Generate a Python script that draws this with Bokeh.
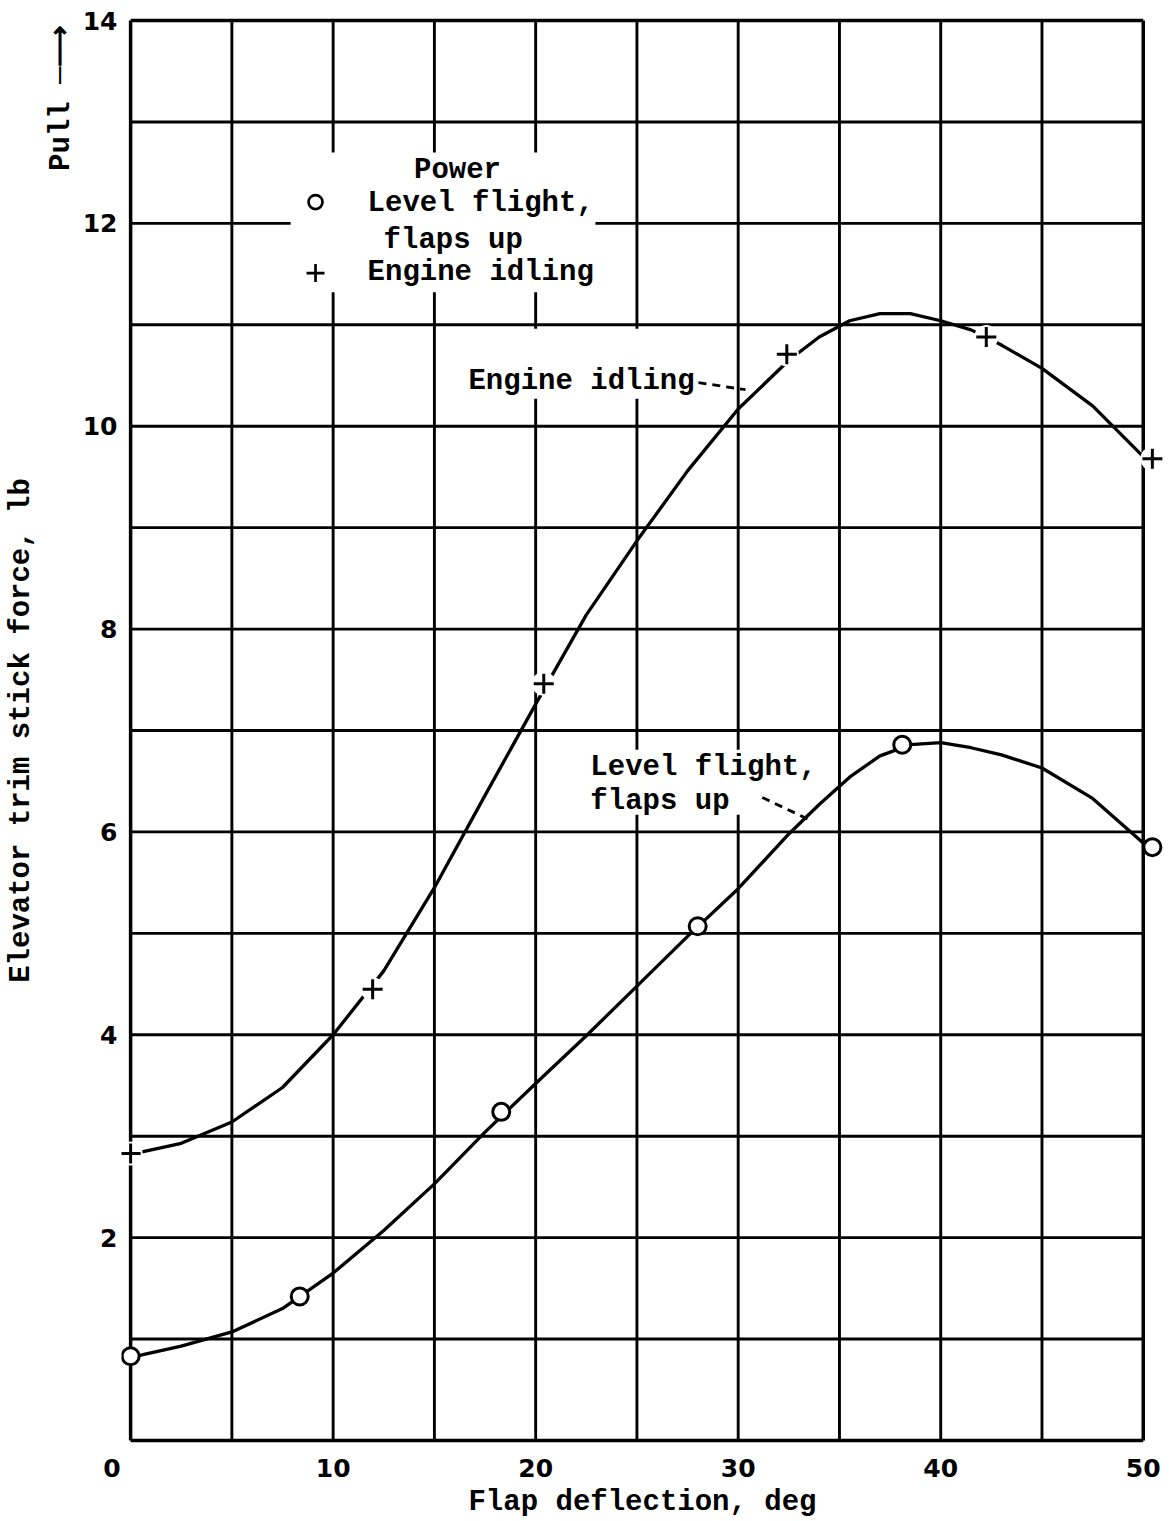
from bokeh.plotting import figure
from bokeh.models import Range1d, FixedTicker, Label, LinearAxis, Title
from bokeh.embed import file_html
from bokeh.resources import INLINE

# ---- data ----
# measured points
level_x = [0.0, 8.35, 18.3, 28.0, 38.1, 50.45]
level_y = [0.83, 1.42, 3.24, 5.07, 6.86, 5.85]
idle_x = [0.0, 11.95, 20.4, 32.4, 42.25, 50.45]
idle_y = [2.83, 4.45, 7.46, 10.71, 10.88, 9.68]

# faired curves
idle_fair_x = [0, 2.5, 5, 7.5, 10, 12.5, 15, 17.5, 20, 22.5, 25, 27.5, 30, 32.5, 34, 35.5, 37, 38.5, 40, 41.5, 43,
               45, 47.5, 50]
idle_fair_y = [2.82, 2.93, 3.14, 3.48, 4.00, 4.63, 5.45, 6.36, 7.26, 8.14, 8.87, 9.56, 10.17, 10.65, 10.88, 11.04,
               11.11, 11.11, 11.04, 10.95, 10.80, 10.57, 10.20, 9.70]
level_fair_x = [0, 2.5, 5, 7.5, 10, 12.5, 15, 17.5, 20, 22.5, 25, 27.5, 30, 32.5, 34, 35.5, 37, 38.5, 40, 41.5, 43,
                45, 47.5, 50]
level_fair_y = [0.82, 0.93, 1.07, 1.30, 1.65, 2.07, 2.53, 3.04, 3.52, 3.99, 4.48, 4.97, 5.44, 5.98, 6.27, 6.54,
                6.75, 6.86, 6.88, 6.83, 6.76, 6.63, 6.33, 5.89]

# grid / ticks
grid_x = [0, 5, 10, 15, 20, 25, 30, 35, 40, 45, 50]
grid_y = [0, 1, 2, 3, 4, 5, 6, 7, 8, 9, 10, 11, 12, 13, 14]
x_ticks = [0, 10, 20, 30, 40, 50]
y_ticks = [2, 4, 6, 8, 10, 12, 14]

MONO = "Liberation Mono"
INK = "#000000"

p = figure(width=1172, height=1521,
           x_range=Range1d(-0.45, 51.0), y_range=Range1d(-0.03, 14.03),
           output_backend="svg", toolbar_location=None,
           min_border_left=121, min_border_right=9, min_border_top=17, min_border_bottom=76)
p.outline_line_color = None
p.grid.visible = False
p.background_fill_color = "white"
p.border_fill_color = "white"

# axes (tick labels)
for ax in (p.xaxis, p.yaxis):
    ax.axis_line_color = None
    ax.major_tick_line_color = None
    ax.minor_tick_line_color = None
    ax.major_tick_out = 0
    ax.major_label_text_font = "DejaVu Sans"
    ax.major_label_text_font_style = "bold"
    ax.major_label_text_font_size = "25px"
    ax.major_label_text_color = INK
p.xaxis.ticker = FixedTicker(ticks=x_ticks)
p.yaxis.ticker = FixedTicker(ticks=y_ticks)
p.xaxis.major_label_standoff = 10
p.yaxis.major_label_standoff = 4
p.xaxis.major_label_overrides = {0: "0\u2003\u2002"}
p.xaxis.axis_label = "Flap deflection, deg"
p.xaxis.axis_label_text_font = MONO
p.xaxis.axis_label_text_font_style = "bold"
p.xaxis.axis_label_text_font_size = "29px"
p.xaxis.axis_label_text_color = INK
p.xaxis.axis_label_standoff = 0

# "Pull ->" between tick labels and axis title
pull = Title(text="Pull \u2500\u27f6", align="right", offset=7, standoff=4,
             text_font=MONO, text_font_style="bold", text_font_size="29px", text_color=INK)
p.add_layout(pull, "left")

# outer left axis carrying the y title only
ytitle_axis = LinearAxis(ticker=FixedTicker(ticks=[]), axis_line_color=None, major_tick_line_color=None,
                         minor_tick_line_color=None, major_tick_out=0, major_label_standoff=0,
                         axis_label="Elevator trim stick force, lb", axis_label_standoff=3,
                         axis_label_text_font=MONO, axis_label_text_font_style="bold",
                         axis_label_text_font_size="29px", axis_label_text_color=INK)
p.add_layout(ytitle_axis, "left")

# grid lines (inner) and frame
inner_x = grid_x[1:-1]
inner_y = grid_y[1:-1]
p.segment(x0=inner_x, y0=[grid_y[0]] * len(inner_x), x1=inner_x, y1=[grid_y[-1]] * len(inner_x),
          line_color=INK, line_width=2.9)
p.segment(x0=[grid_x[0]] * len(inner_y), y0=inner_y, x1=[grid_x[-1]] * len(inner_y), y1=inner_y,
          line_color=INK, line_width=2.9)
fx = [grid_x[0], grid_x[-1]]
fy = [grid_y[0], grid_y[-1]]
p.segment(x0=fx, y0=[fy[0], fy[0]], x1=fx, y1=[fy[1], fy[1]], line_color=INK, line_width=3.5)
p.segment(x0=[fx[0], fx[0]], y0=fy, x1=[fx[1], fx[1]], y1=fy, line_color=INK, line_width=3.5)

# white paper behind the lettering
p.quad(left=[7.9, 16.2, 22.4], right=[22.95, 29.2, 32.5], bottom=[11.32, 10.27, 6.17], top=[12.70, 10.96, 6.81],
       fill_color="white", line_color=None)

# faired curves
p.line(idle_fair_x, idle_fair_y, line_color=INK, line_width=3.3)
p.line(level_fair_x, level_fair_y, line_color=INK, line_width=3.3)

# leaders
p.line([28.04, 30.36], [10.43, 10.36], line_color=INK, line_width=2.8, line_dash="8 6")
p.line([31.19, 33.51], [6.34, 6.12], line_color=INK, line_width=2.8, line_dash="8 6")

# points
p.scatter(idle_x, idle_y, marker="circle", size=24, fill_color="white", line_color=None)
p.scatter(idle_x, idle_y, marker="cross", size=20, line_color=INK, line_width=3)
p.scatter(level_x, level_y, marker="circle", size=17, fill_color="white", line_color=INK, line_width=3)

# legend keys
p.scatter([9.13], [12.21], marker="circle", size=14, fill_color="white", line_color=INK, line_width=2.7)
p.scatter([9.13], [11.51], marker="cross", size=18, line_color=INK, line_width=2.7)


def lab(x, y, text, align="left"):
    p.add_layout(Label(x=x, y=y, text=text, text_font=MONO, text_font_style="bold",
                       text_font_size="29px", text_color=INK, text_align=align,
                       text_baseline="middle"))


lab(16.14, 12.52, "Power", align="center")
lab(11.70, 12.20, "Level flight,")
lab(12.49, 11.83, "flaps up")
lab(11.70, 11.52, "Engine idling")
lab(16.68, 10.44, "Engine idling")
lab(22.70, 6.64, "Level flight,")
lab(22.70, 6.30, "flaps up")

open("out.html", "w").write(file_html(p, INLINE))
